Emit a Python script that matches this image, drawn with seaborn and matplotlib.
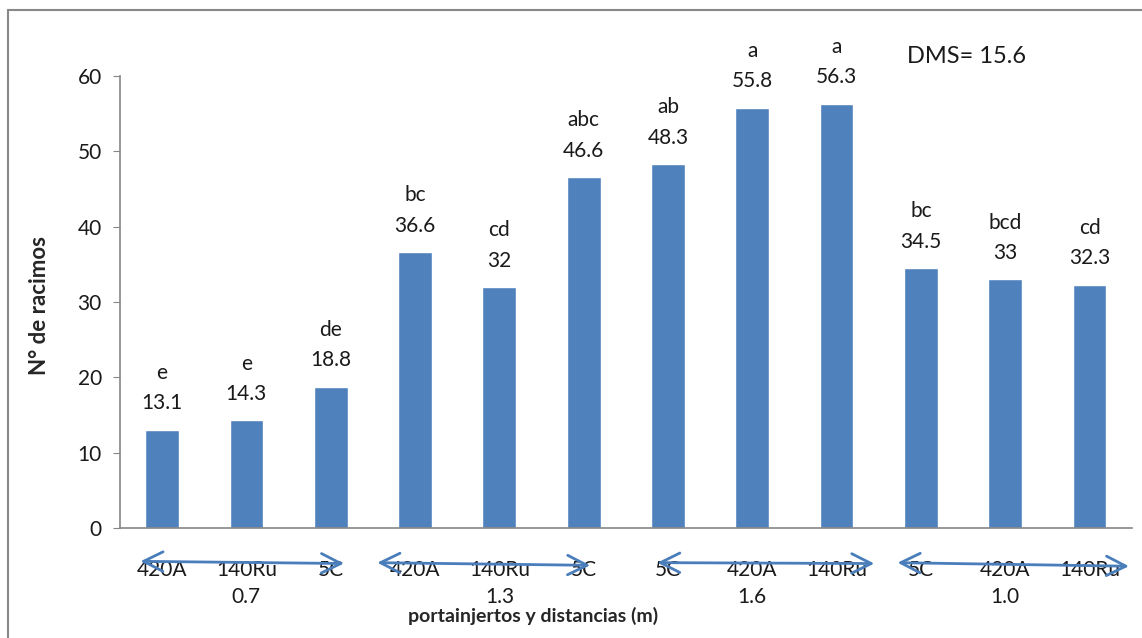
import matplotlib
matplotlib.use("Agg")
from matplotlib import pyplot as plt
from matplotlib.patches import Rectangle
import seaborn as sns
import pandas as pd

# data
portainjertos = ["420A", "140Ru", "5C", "420A", "140Ru", "5C",
                 "5C", "420A", "140Ru", "5C", "420A", "140Ru"]
distancias = ["0.7", "1.3", "1.6", "1.0"]
racimos = [13.1, 14.3, 18.8, 36.6, 32, 46.6, 48.3, 55.8, 56.3, 34.5, 33, 32.3]
letras = ["e", "e", "de", "bc", "cd", "abc", "ab", "a", "a", "bc", "bcd", "cd"]
dms = 15.6

grupo = [d for d in distancias for _ in range(3)]
df = pd.DataFrame({
    "trat": [f"{g}-{p}" for g, p in zip(grupo, portainjertos)],
    "racimos": racimos,
})

sns.set_style("white")
plt.rcParams["font.family"] = ["Lato", "DejaVu Sans"]
negro = "#1a1a1a"

fig = plt.figure(figsize=(11.42, 6.38), dpi=100)
ax = fig.add_axes([0.105, 0.172, 0.886, 0.709])

sns.barplot(data=df, x="trat", y="racimos", color="#4F81BD", saturation=1,
            width=0.4, ax=ax)

ax.set_ylim(0, 60)
ax.set_yticks(range(0, 61, 10))
ax.set_xlim(-0.5, len(racimos) - 0.5)
ax.set_xticks(range(len(racimos)))
ax.set_xticklabels(portainjertos)
ax.tick_params(axis="y", labelsize=15, length=5, color="#868686",
               direction="out", left=True, pad=8, labelcolor=negro)
ax.tick_params(axis="x", labelsize=15, length=0, pad=23, labelcolor=negro)

for s in ["top", "right"]:
    ax.spines[s].set_visible(False)
for s in ["left", "bottom"]:
    ax.spines[s].set_color("#868686")
    ax.spines[s].set_linewidth(1.2)

# letters and means over the bars
for i, (v, l) in enumerate(zip(racimos, letras)):
    ax.annotate(f"{v:g}", (i, v), xytext=(0, 19), textcoords="offset points",
                ha="center", va="center", fontsize=15, color=negro)
    ax.annotate(l, (i, v), xytext=(0, 41), textcoords="offset points",
                ha="center", va="center", fontsize=15, color=negro)

# hand-drawn double arrows under each group (start/end offsets, tilt)
ini = [-0.29, -0.48, -0.16, -0.31]
fin = [0.19, 0.11, 0.48, 0.5]
y_ini = [-0.073, -0.076, -0.076, -0.076]
y_fin = [-0.078, -0.082, -0.078, -0.084]
for g, d in enumerate(distancias):
    ax.annotate("", xy=(g * 3 + 2 + fin[g], y_fin[g]),
                xytext=(g * 3 + ini[g], y_ini[g]),
                xycoords=("data", "axes fraction"),
                textcoords=("data", "axes fraction"),
                arrowprops=dict(arrowstyle="<->,head_length=1.4,head_width=0.7",
                                color="#4A7EBB", lw=2),
                annotation_clip=False, zorder=5)
    ax.text(g * 3 + 1, -0.153, d, transform=ax.get_xaxis_transform(),
            ha="center", va="center", fontsize=15, color=negro)

ax.set_xlabel("portainjertos y distancias (m)", fontsize=14, fontweight="bold")
ax.xaxis.set_label_coords(0.408, -0.193)
ax.xaxis.label.set_va("center")
ax.set_ylabel("N° de racimos", fontsize=16, fontweight="bold")
ax.yaxis.set_label_coords(-0.079, 0.493)
ax.yaxis.label.set_va("center")

fig.text(0.794, 0.911, f"DMS= {dms}", fontsize=17, ha="left", va="center",
         color=negro)

# outer chart border (only left and top visible in the crop)
fig.patches.append(Rectangle((0.007, -0.1), 1.1, 1.084, transform=fig.transFigure,
                             fill=False, edgecolor="#888888", lw=1.5))

fig.savefig("out.png", dpi=100)
